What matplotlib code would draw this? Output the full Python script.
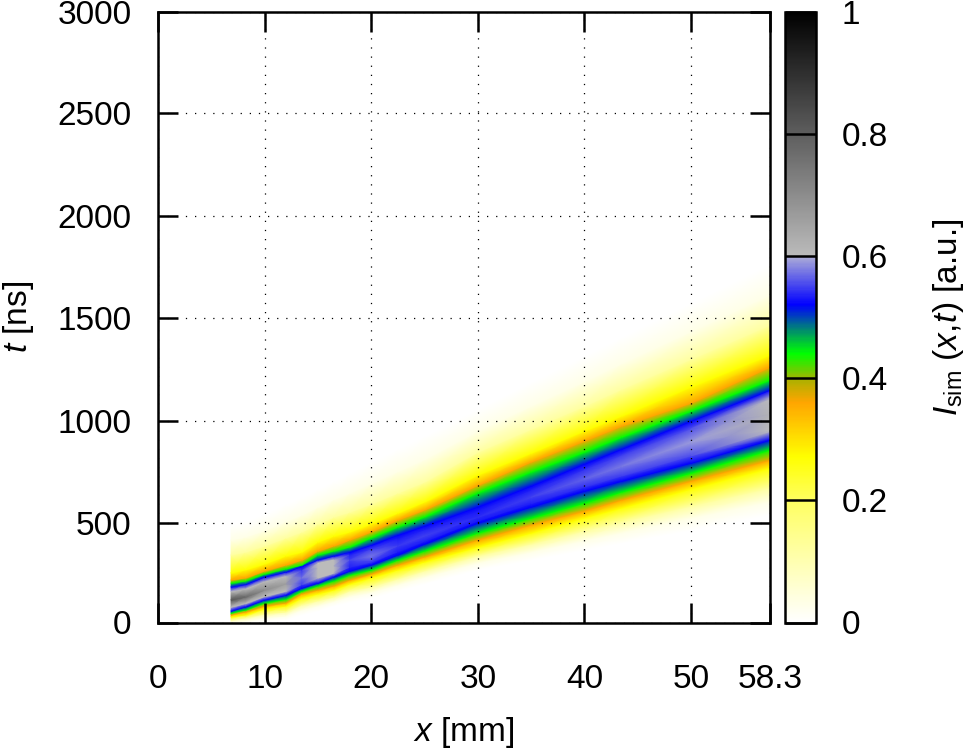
import numpy as np
import matplotlib
matplotlib.use("Agg")
import matplotlib.pyplot as plt
from matplotlib.colors import LinearSegmentedColormap, Normalize
from matplotlib.cm import ScalarMappable

plt.rcParams['font.family'] = ['Liberation Sans', 'DejaVu Sans']
plt.rcParams['mathtext.fontset'] = 'custom'
plt.rcParams['mathtext.rm'] = 'Liberation Sans'
plt.rcParams['mathtext.it'] = 'Liberation Sans:italic'
plt.rcParams['font.size'] = 24

x_stations = [6.85, 8.2, 10, 12, 13.5, 15, 16.5, 18, 20, 22.5, 25, 30, 35, 40, 43.5, 50, 57.4]

# intensity levels of the contours read on each flank
levels_upper = [0.0, 0.12, 0.27, 0.36, 0.44, 0.52]
levels_lower = [0.52, 0.44, 0.36, 0.27, 0.12, 0.0]
nivel_fade = 0.03

# t [ns] of each level above the band centre, one row per x station
t_upper = [
    [492, 346, 258, 224, 209, 190],
    [506, 360, 273, 234, 219, 202],
    [541, 390, 302, 268, 253, 239],
    [589, 429, 341, 297, 278, 263],
    [623, 458, 360, 321, 297, 290],
    [662, 497, 409, 365, 346, 322],
    [701, 531, 438, 390, 365, 341],
    [740, 555, 458, 419, 385, 360],
    [794, 594, 497, 458, 429, 394],
    [857, 648, 550, 516, 482, 443],
    [920, 701, 604, 565, 531, 487],
    [1052, 847, 735, 685, 648, 580],
    [1183, 959, 842, 799, 750, 682],
    [1310, 1071, 950, 901, 847, 789],
    [1403, 1154, 1023, 974, 920, 862],
    [1568, 1300, 1164, 1086, 1047, 998],
    [1758, 1466, 1320, 1261, 1198, 1149],
]

# t [ns] of each level below the band centre
t_lower = [
    [73, 63, 54, 44, 29, 5],
    [93, 78, 68, 54, 39, 10],
    [127, 112, 97, 83, 58, 19],
    [150, 130, 112, 97, 68, 29],
    [185, 170, 156, 136, 102, 54],
    [209, 195, 175, 156, 122, 73],
    [239, 219, 195, 175, 141, 97],
    [268, 248, 224, 205, 170, 117],
    [297, 273, 253, 234, 190, 136],
    [346, 321, 297, 273, 229, 170],
    [399, 365, 336, 312, 268, 205],
    [502, 453, 419, 385, 341, 273],
    [580, 526, 492, 453, 399, 321],
    [657, 599, 560, 526, 463, 370],
    [706, 653, 614, 575, 506, 404],
    [794, 745, 706, 667, 584, 467],
    [906, 857, 808, 769, 672, 541],
]

# band centre and its intensity
t_peak = [127, 141, 175, 205, 234, 282, 292, 321, 341, 390, 439, 530, 628, 716, 779, 896, 1028]
i_peak = [0.82, 0.78, 0.70, 0.66, 0.57, 0.60, 0.60, 0.55, 0.575, 0.545, 0.55, 0.54, 0.55, 0.565, 0.575, 0.59, 0.615]

x_ticks = [0, 10, 20, 30, 40, 50, 57.4]
x_ticklabels = ['0', '10', '20', '30', '40', '50', '58.3']
t_ticks = [17, 500, 1000, 1500, 2000, 2500, 2994]
t_ticklabels = ['0', '500', '1000', '1500', '2000', '2500', '3000']
cb_ticks = [0, 0.2, 0.4, 0.6, 0.8, 1]
cb_ticklabels = ['0', '0.2', '0.4', '0.6', '0.8', '1']

# colour map
cores = [(0.0, '#ffffff'), (0.03, '#ffffe8'), (0.12, '#ffffa0'), (0.20, '#ffff60'), (0.27, '#ffff00'),
         (0.36, '#ffa500'), (0.395, '#b0b000'), (0.44, '#00ff00'), (0.477, '#00906a'),
         (0.52, '#0000ff'), (0.597, '#a8a8d8'), (0.60, '#bbbbbb'), (1.0, '#000000')]
cmap = LinearSegmentedColormap.from_list('isim', cores, N=512)
norm = Normalize(0, 1)

W, H = 966, 751
fig = plt.figure(figsize=(W / 100, H / 100), dpi=100)
ax = fig.add_axes([158 / W, 1 - 622.5 / H, 612 / W, 611 / H])
cax = fig.add_axes([784.5 / W, 1 - 622.5 / H, 31 / W, 611 / H])

# mesh with one row per contour, built from the tables above
xs = np.array(x_stations, dtype=float)
tu = np.array(t_upper, dtype=float)
tl = np.array(t_lower, dtype=float)
tp = np.array(t_peak, dtype=float)
ip = np.array(i_peak, dtype=float)

# row inside the blue edges so the grey does not wash into the blue
ombro = np.where(ip < 0.6, 0.5 * (ip + 0.52), 0.60)
t_ombro_lo = tl[:, 0] + 0.35 * (tp - tl[:, 0])
t_ombro_up = tu[:, 5] + 0.35 * (tp - tu[:, 5])

# extra row in the pale tails, the fade is not linear out there
t_fade_up = tu[:, 1] + 0.5 * (tu[:, 0] - tu[:, 1])
t_fade_lo = tl[:, 4] + 0.5 * (tl[:, 5] - tl[:, 4])

T = np.column_stack([tl[:, 5], t_fade_lo, tl[:, 4::-1], t_ombro_lo, tp, t_ombro_up,
                     tu[:, 5:0:-1], t_fade_up, tu[:, 0]])
n = len(xs)
col_lo = [levels_lower[5], nivel_fade] + levels_lower[4::-1]
col_up = levels_upper[5:0:-1] + [nivel_fade, levels_upper[0]]
I = np.column_stack([np.tile(col_lo, (n, 1)), ombro, ip, ombro, np.tile(col_up, (n, 1))])
X = np.tile(xs[:, None], (1, T.shape[1]))

ax.pcolormesh(X, T, I, cmap=cmap, norm=norm, shading='gouraud')

ax.set_xlim(0, 57.4)
ax.set_ylim(17, 2994)
ax.set_xticks(x_ticks)
ax.set_xticklabels(x_ticklabels)
ax.set_yticks(t_ticks)
ax.set_yticklabels(t_ticklabels)
ax.tick_params(direction='in', length=14.4, width=1.8, top=True, right=True, color='black')
ax.tick_params(axis='x', pad=30)
ax.tick_params(axis='y', pad=19)
ax.set_axisbelow(False)
ax.grid(True, color='black', linewidth=0.9, linestyle=(0, (1, 6.3)))
for s in ax.spines.values():
    s.set_linewidth(1.8)

ax.set_xlabel(r'$\mathit{x}$ [mm]')
ax.xaxis.set_label_coords(0.5, -0.18)
ax.xaxis.label.set_va('center')
ax.set_ylabel(r'$\mathit{t}$ [ns]')
ax.yaxis.set_label_coords(-0.228, 0.5)
ax.yaxis.label.set_va('center')

cb = fig.colorbar(ScalarMappable(norm=norm, cmap=cmap), cax=cax)
cb.set_ticks(cb_ticks)
cb.set_ticklabels(cb_ticklabels)
cb.ax.tick_params(direction='in', length=22.3, width=1.8, pad=19, color='black')
cb.outline.set_linewidth(1.8)
cb.set_label(r'$\mathit{I}_{\mathrm{sim}}$ $(\mathit{x},\!\mathit{t})$ [a.u.]')
cb.ax.yaxis.set_label_coords(5.3, 0.5)
cb.ax.yaxis.label.set_va('center')

fig.savefig('out.png', dpi=100)
plt.close(fig)
